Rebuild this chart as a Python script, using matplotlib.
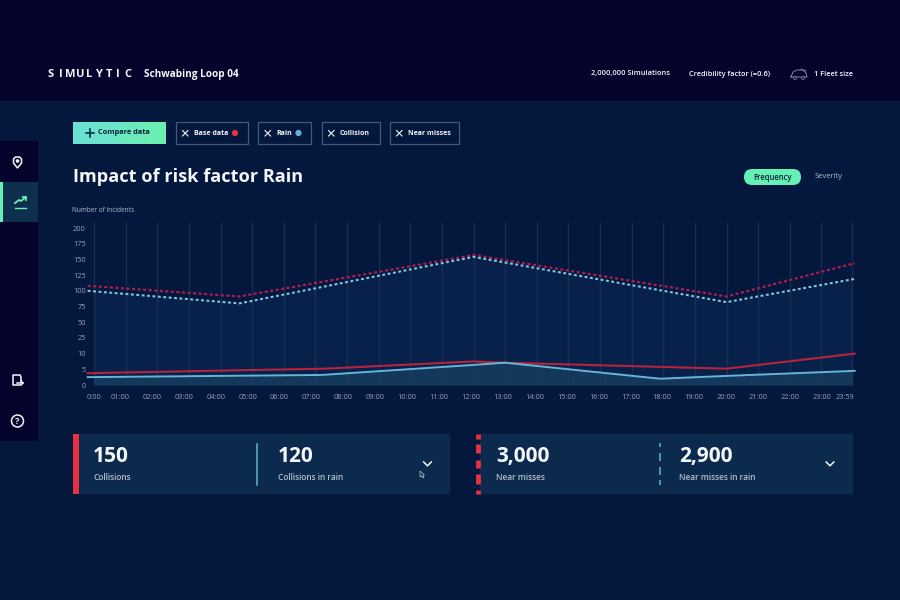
import numpy as np
import matplotlib
matplotlib.use("Agg")
import matplotlib.pyplot as plt
from matplotlib.patches import Rectangle, FancyBboxPatch, Circle, Polygon

plt.rcParams['font.family'] = ['Open Sans', 'DejaVu Sans']

# chart data
hour_ticks = list(range(24))
hour_labels = ['0:00'] + ['%02d:00' % h for h in range(1, 24)] + ['23:59']
y_labels = [0, 5, 10, 25, 50, 75, 100, 125, 150, 175, 200]

base_near_hours = [-0.2, 4.6, 12, 20, 24.05]
base_near = [108, 91, 157, 91, 144]
rain_near_hours = [-0.2, 4.6, 12, 20, 24.05]
rain_near = [100, 80, 154, 82, 119]
base_coll_hours = [-0.2, 4.6, 7.3, 12, 13, 20, 24.05]
base_coll = [3.75, 4.7, 5.2, 7.5, 7.1, 5.2, 10]
rain_coll_hours = [-0.2, 7.2, 12, 13, 17.9, 20, 24.05]
rain_coll = [2.5, 3.2, 6.4, 7.1, 2.0, 2.9, 4.5]

# text of the dashboard
chips = ['Base data', 'Rain', 'Collision', 'Near misses']
header_stats = ['2,000,000 Simulations', 'Credibility factor (=0.6)', '1 Fleet size']
card_values = ['150', '120', '3,000', '2,900']
card_labels = ['Collisions', 'Collisions in rain', 'Near misses', 'Near misses in rain']

BG = '#04173c'
DARK = '#03032b'
PANEL = '#0c2a4d'
GREEN = '#66f0b4'
RED = '#e8303f'
BLUE = '#5db4d8'
WHITE = '#f4f7fa'
GREY = '#b4c0cf'


# y axis has equal steps for uneven values
def y_forward(v):
    return np.interp(v, y_labels + [400], list(range(11)) + [18])


def y_inverse(p):
    return np.interp(p, list(range(11)) + [18], y_labels + [400])


def rect(ax, x, y, w, h, color, z=1):
    ax.add_patch(Rectangle((x, y), w, h, facecolor=color, edgecolor='none', zorder=z))


def chip(ax, x, y, w, h, label, dot=None):
    ax.add_patch(Rectangle((x, y), w, h, facecolor='none', edgecolor='#46597a', lw=0.9, zorder=3))
    ax.plot([x + 7, x + 12.5], [y + 8.5, y + 14], color=WHITE, lw=0.8, zorder=4)
    ax.plot([x + 7, x + 12.5], [y + 14, y + 8.5], color=WHITE, lw=0.8, zorder=4)
    ax.text(x + 18, y + 11.3, label, color=WHITE, fontsize=5.05, fontweight='bold', va='center', zorder=4)
    if dot:
        ax.add_patch(Circle((x + w - 12.5, y + 11), 2.4, color=dot, zorder=4))


def chevron(ax, x, y):
    ax.plot([x - 3.8, x, x + 3.8], [y - 2, y + 1.8, y - 2], color=WHITE, lw=1.1, zorder=4)


def dash_segments(ax, x, segments, color, lw):
    for y0, y1 in segments:
        ax.plot([x, x], [y0, y1], color=color, lw=lw, solid_capstyle='butt', zorder=4)


def draw_ui(ax):
    # header and sidebar
    rect(ax, 0, 0, 900, 101, DARK)
    rect(ax, 0, 141, 38, 300, DARK)
    rect(ax, 0, 182, 38, 40, '#0f2f4f', 2)
    rect(ax, 0, 182, 3, 40, GREEN, 3)

    for i, ch in enumerate('SIMULYTIC'):
        ax.text(51 + i * 9.6, 74.5, ch, color=WHITE, fontsize=8, fontweight='bold', ha='center', va='center')
    ax.text(144.5, 74.5, 'Schwabing Loop 04', color=WHITE, fontsize=7.2, fontweight='bold', va='center')
    ax.text(591, 74, header_stats[0], color=WHITE, fontsize=5.3, fontweight='semibold', va='center')
    ax.text(689, 74, header_stats[1], color=WHITE, fontsize=5.3, fontweight='semibold', va='center')
    ax.text(814, 74, header_stats[2], color=WHITE, fontsize=5.3, fontweight='semibold', va='center')

    # car icon
    car_x = [791, 793, 797, 803, 806, 807, 791]
    car_y = [77, 72, 70, 70, 73, 77, 77]
    ax.plot(car_x, car_y, color='#7f8aa5', lw=0.7)
    ax.plot([801, 806], [69, 71], color='#7f8aa5', lw=0.6)
    ax.add_patch(Circle((795, 78), 1.4, facecolor=DARK, edgecolor='#7f8aa5', lw=0.6, zorder=3))
    ax.add_patch(Circle((803, 78), 1.4, facecolor=DARK, edgecolor='#7f8aa5', lw=0.6, zorder=3))

    # compare button with gradient
    grad = np.linspace(0, 1, 64).reshape(1, -1)
    cmap = matplotlib.colors.LinearSegmentedColormap.from_list('btn', ['#6ae0d6', '#6cf0ae'])
    ax.imshow(grad, extent=(73, 166, 144, 122), cmap=cmap, aspect='auto', zorder=2)
    ax.set_xlim(0, 900)
    ax.set_ylim(600, 0)
    ax.plot([85.5, 93.5], [133, 133], color='#06203a', lw=1.1, zorder=4)
    ax.plot([89.5, 89.5], [129, 137], color='#06203a', lw=1.1, zorder=4)
    ax.text(98.5, 133, 'Compare data', color='#06203a', fontsize=5.35, fontweight='bold', va='center', zorder=4)

    chip(ax, 175.5, 122, 72, 22, chips[0], '#e8304a')
    chip(ax, 258, 122, 53, 22, chips[1], BLUE)
    chip(ax, 321.5, 122, 58, 22, chips[2])
    chip(ax, 389.5, 122, 69.5, 22, chips[3])

    ax.text(73, 176.5, 'Impact of risk factor Rain', color=WHITE, fontsize=13.1, fontweight='bold', va='center')

    # frequency toggle
    ax.add_patch(FancyBboxPatch((744, 169), 57, 16, boxstyle='round,pad=0,rounding_size=8',
                                facecolor=GREEN, edgecolor='none', zorder=2))
    ax.text(772.5, 177, 'Frequency', color='#06203a', fontsize=5.5, fontweight='semibold', ha='center', va='center', zorder=4)
    ax.text(829, 177, 'Severity', color=GREY, fontsize=5.5, ha='center', va='center', zorder=4)
    ax.text(72, 210, 'Number of incidents', color=GREY, fontsize=4.7, va='center')

    # cards
    rect(ax, 73, 434, 377, 60, PANEL)
    rect(ax, 73, 434, 5.5, 60, RED, 3)
    ax.plot([257, 257], [444, 485], color=BLUE, lw=1.1, zorder=4)
    rect(ax, 480, 434, 373, 60, PANEL)
    dash_segments(ax, 478, [(434, 439), (444, 453), (460, 468), (474, 484), (490, 494)], RED, 3.4)
    dash_segments(ax, 659.5, [(443, 447), (453, 461), (467, 475), (480, 485)], BLUE, 1.1)

    for tx, val, lab in zip([93, 278, 496, 679], card_values, card_labels):
        ax.text(tx, 456.8, val, color=WHITE, fontsize=15, fontweight='bold', va='center', zorder=4)
        ax.text(tx, 478, lab, color=GREY, fontsize=6.05, fontweight='semibold', va='center', zorder=4)
    chevron(ax, 427.5, 464)
    chevron(ax, 830, 464)
    ax.add_patch(Polygon([(420, 471), (420, 477), (421.5, 476), (423, 478), (424, 477.5), (423, 475.5), (424.5, 475)],
                         facecolor='#1c3a5c', edgecolor='#b4c0cf', lw=0.5, zorder=5))

    # sidebar icons
    ax.add_patch(Polygon([(13.5, 163), (17.5, 168), (21.5, 163), (21.5, 159), (19.5, 157), (15.5, 157), (13.5, 159)],
                         closed=True, facecolor='none', edgecolor=WHITE, lw=1.1, zorder=4))
    ax.add_patch(Circle((17.5, 161), 1.1, color=WHITE, zorder=4))
    ax.plot([15, 19, 21, 26], [203, 200, 201, 197], color=GREEN, lw=1.3, zorder=4)
    ax.plot([23, 26, 26], [197, 197, 200], color=GREEN, lw=1.3, zorder=4)
    ax.plot([15, 26], [207.5, 207.5], color=GREEN, lw=1.0, zorder=4)
    ax.plot([20, 13, 13, 20, 21, 21], [385, 385, 375, 375, 377, 381], color=WHITE, lw=1.1, zorder=4)
    ax.plot([17, 23, 21], [383, 383, 381], color=WHITE, lw=1.1, zorder=4)
    ax.plot([21, 23], [385, 383], color=WHITE, lw=1.1, zorder=4)
    ax.add_patch(Circle((17.5, 421), 6, facecolor='none', edgecolor=WHITE, lw=1.1, zorder=4))
    ax.text(17.5, 421, '?', color=WHITE, fontsize=6.5, fontweight='bold', ha='center', va='center', zorder=5)


def draw_chart(ax):
    ax.set_facecolor('none')
    ax.set_yscale('function', functions=(y_forward, y_inverse))
    x_right = 24.6
    ax.set_xlim(-0.44, x_right)
    ax.set_ylim(0, 208)

    clip = Rectangle((0, 0), 23.98, 400, transform=ax.transData)
    area = ax.fill_between(rain_near_hours, rain_near, 0, color='#07214a', lw=0, zorder=1)
    area.set_clip_path(clip)
    area2 = ax.fill_between(rain_coll_hours, rain_coll, 0, color='#14375c', lw=0, zorder=1.5)
    area2.set_clip_path(clip)

    for h in hour_ticks + [23.98]:
        ax.axvline(h, color='#23395c', lw=0.9, alpha=0.7, zorder=2)

    ax.plot(base_near_hours, base_near, color='#a81f50', lw=1.6, ls=(0, (1.4, 1.1)), zorder=3)
    ax.plot(rain_near_hours, rain_near, color='#7fc4e0', lw=1.5, ls=(0, (1.4, 1.2)), zorder=3)
    ax.plot(base_coll_hours, base_coll, color='#b5233f', lw=1.5, zorder=3)
    ax.plot(rain_coll_hours, rain_coll, color='#66b4d6', lw=1.4, zorder=3.5)

    for s in ax.spines.values():
        s.set_visible(False)
    ax.set_yticks(y_labels)
    ax.set_yticklabels([str(v) for v in y_labels])
    ax.minorticks_off()

    # hour labels sit a little left of their grid lines
    label_pos = [0] + [(120 + 31.9 * (h - 1) - 94) / 31.63 for h in hour_ticks[1:]] + [(845 - 94) / 31.63]
    ax.set_xticks(label_pos)
    ax.set_xticklabels(hour_labels)
    ax.tick_params(axis='both', length=0, labelsize=5.3, labelcolor='#97a5b9')
    ax.tick_params(axis='x', pad=6.5)
    ax.tick_params(axis='y', pad=-4)


def main():
    fig = plt.figure(figsize=(9, 6), dpi=100, facecolor=BG)
    ui = fig.add_axes([0, 0, 1, 1])
    ui.set_xlim(0, 900)
    ui.set_ylim(600, 0)
    ui.axis('off')
    draw_ui(ui)

    # chart placed in pixels: 0h at x=94, value 0 at y=385
    left = 94 - 0.44 * 31.63
    width = (24.6 + 0.44) * 31.63
    chart = fig.add_axes([left / 900, (600 - 385) / 600, width / 900, (385 - 223) / 600])
    draw_chart(chart)

    fig.savefig('out.png', dpi=100, facecolor=BG)


if __name__ == "__main__":
    main()
